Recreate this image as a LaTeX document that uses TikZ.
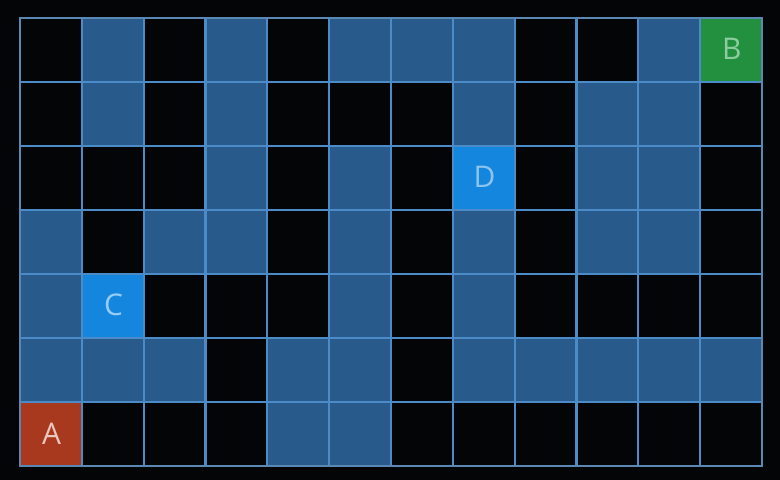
\documentclass[tikz,border=0pt]{standalone}
\usepackage{fontspec}
\setsansfont{Open Sans}
\usepackage{tikz}
\usetikzlibrary{positioning}

\definecolor{bgdark}{HTML}{030507}
\definecolor{cellblue}{HTML}{285A8C}
\definecolor{gridline}{HTML}{4B8BC8}
\definecolor{brightblue}{HTML}{1486DE}
\definecolor{startred}{HTML}{A8381E}
\definecolor{goalgreen}{HTML}{23903F}

\tikzset{
  letter/.style={minimum width=0.618cm, minimum height=0.64cm, inner sep=0pt,
    anchor=south west, font=\fontsize{8.5}{8.5}\selectfont\sffamily}
}

\begin{document}
\begin{tikzpicture}[x=0.6183cm, y=0.64cm]
  \useasboundingbox (-0.20cm,-0.14cm) rectangle (7.60cm,4.66cm);
  \fill[bgdark] (-0.20cm,-0.14cm) rectangle (7.60cm,4.66cm);

  % open cells
  \foreach \cx/\cy in {1/6,3/6,5/6,6/6,7/6,10/6,
                       1/5,3/5,7/5,9/5,10/5,
                       3/4,5/4,9/4,10/4,
                       0/3,2/3,3/3,5/3,7/3,9/3,10/3,
                       0/2,5/2,7/2,
                       0/1,1/1,2/1,4/1,5/1,7/1,8/1,9/1,10/1,11/1,
                       4/0,5/0}
    \fill[cellblue] (\cx,\cy) rectangle ++(1,1);

  \node[letter, fill=startred, text={rgb,255:red,232;green,200;blue,190}] (A) at (0,0) {A};
  \node[letter, fill=goalgreen, text={rgb,255:red,140;green,205;blue,160}] (B) at (11,6) {B};
  \node[letter, fill=brightblue, text={rgb,255:red,150;green,205;blue,245}] (C) at (1,2) {C};
  \node[letter, fill=brightblue, text={rgb,255:red,140;green,196;blue,238}] (D) at (7,4) {D};

  % grid
  \foreach \gx in {1,...,11}
    \draw[gridline, line width=0.6pt] (\gx,0) -- (\gx,7);
  \foreach \gy in {1,...,6}
    \draw[gridline, line width=0.6pt] (0,\gy) -- (12,\gy);
  \draw[gridline!70!gray, line width=0.5pt] (0,0) rectangle (12,7);
\end{tikzpicture}
\end{document}
